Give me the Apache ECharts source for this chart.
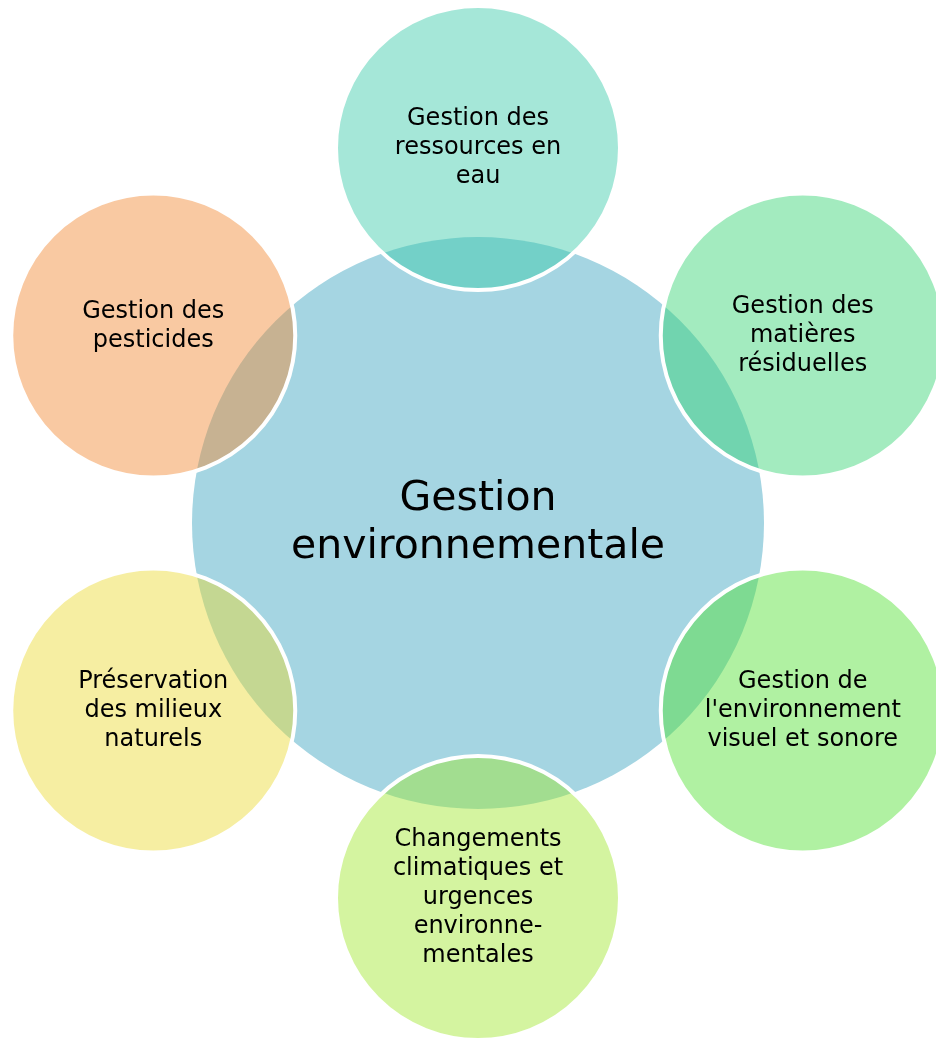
<!DOCTYPE html>
<html>
<head>
<meta charset="utf-8">
<script src="https://cdn.jsdelivr.net/npm/echarts@6/dist/echarts.min.js"></script>
<style>
  html, body {margin: 0; padding: 0; background: #fff;}
  #chart {width: 936px; height: 1042px;}
</style>
</head>
<body>
<div id="chart"></div>
<script>
// centre du diagramme
const centerLabel = 'Gestion\nenvironnementale'

// cercles périphériques, dans le sens horaire depuis le haut
const outerLabels = [
    'Gestion des\nressources en\neau',
    'Gestion des\nmatières\nrésiduelles',
    'Gestion de\nl\'environnement\nvisuel et sonore',
    'Changements\nclimatiques et\nurgences\nenvironne-\nmentales',
    'Préservation\ndes milieux\nnaturels',
    'Gestion des\npesticides'
]

const outerColors = [
    'rgba(55,202,168,0.45)',
    'rgba(50,210,113,0.45)',
    'rgba(80,224,48,0.45)',
    'rgba(159,231,44,0.45)',
    'rgba(235,217,48,0.45)',
    'rgba(242,135,48,0.45)'
]

const font = '"DejaVu Sans", sans-serif'

let myChart = echarts.init(document.getElementById('chart'))

const outerData = outerLabels.map((name, i) => {
    const item = {
        name: name,
        value: [1, i * 360 / outerLabels.length],
        itemStyle: {color: outerColors[i]}
    }
    // le texte "pesticides" est un peu remonté dans l'original
    if (i === 5) {
        item.label = {offset: [0, -9]}
    }
    // "l'environnement" est serré dans l'original
    if (i === 2) {
        item.label = {rich: {}}
    }
    return item
})

myChart.setOption({
    animation: false,
    polar: {
        center: [478, 523],
        radius: 375
    },
    angleAxis: {
        type: 'value',
        min: 0,
        max: 360,
        startAngle: 90,
        clockwise: true,
        show: false
    },
    radiusAxis: {
        type: 'value',
        min: 0,
        max: 1,
        show: false
    },
    series: [
        {
            type: 'scatter',
            coordinateSystem: 'polar',
            clip: false,
            z: 1,
            symbol: 'circle',
            symbolSize: 572,
            itemStyle: {color: '#A5D5E2', opacity: 1},
            label: {
                show: true,
                position: 'inside',
                formatter: '{b}',
                fontFamily: font,
                fontSize: 41,
                lineHeight: 48,
                color: '#000'
            },
            emphasis: {disabled: true},
            data: [{name: centerLabel, value: [0, 0]}]
        },
        {
            type: 'scatter',
            coordinateSystem: 'polar',
            clip: false,
            z: 2,
            symbol: 'circle',
            symbolSize: 284,
            itemStyle: {
                borderColor: '#fff',
                borderWidth: 4,
                opacity: 1
            },
            label: {
                show: true,
                position: 'inside',
                formatter: '{b}',
                fontFamily: font,
                fontSize: 24,
                lineHeight: 29,
                color: '#000'
            },
            emphasis: {disabled: true},
            data: outerData
        }
    ]
})
</script>
</body>
</html>
